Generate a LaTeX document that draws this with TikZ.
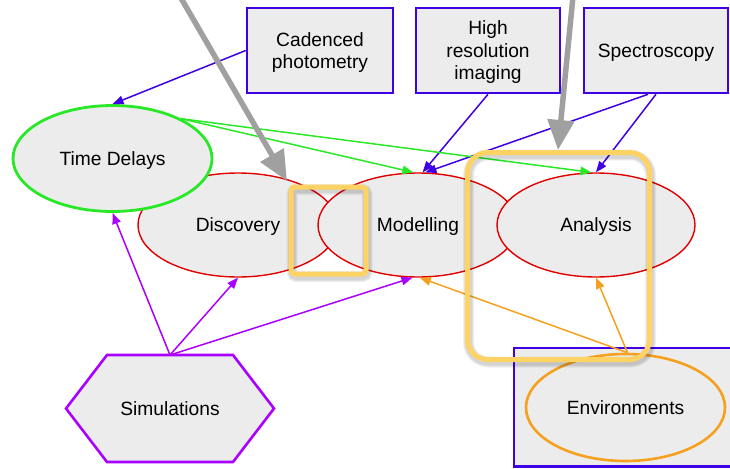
\documentclass[tikz,border=0pt]{standalone}
\usepackage{fontspec}
\setmainfont{Liberation Sans}
\usetikzlibrary{shapes.geometric,arrows.meta,calc}
\definecolor{boxfill}{RGB}{236,236,236}
\definecolor{obsblue}{RGB}{64,0,230}
\definecolor{tdgreen}{RGB}{40,232,40}
\definecolor{simpurple}{RGB}{170,0,255}
\definecolor{envorange}{RGB}{245,160,30}
\definecolor{stagered}{RGB}{225,0,0}
\definecolor{pointgray}{RGB}{160,160,160}
\definecolor{highlight}{RGB}{255,210,100}

\begin{document}
\begin{tikzpicture}[x=1pt,y=-1pt,
  font=\fontsize{19.2}{22.5}\selectfont,
  obsbox/.style={draw=obsblue, line width=2.6pt, fill=boxfill,
    minimum height=85pt, align=center, inner sep=0pt, text depth=0pt},
  stage/.style={ellipse, draw=stagered, line width=1.4pt, fill=boxfill,
    minimum width=200pt, minimum height=104pt, inner sep=0pt, text depth=0pt},
  arr/.style={line width=1.5pt, -{Triangle[length=11pt,width=8.5pt]}},
  obsarrow/.style={arr, draw=obsblue, fill=obsblue},
  tdarrow/.style={arr, draw=tdgreen, fill=tdgreen},
  simarrow/.style={arr, draw=simpurple, fill=simpurple},
  envarrow/.style={arr, draw=envorange, fill=envorange},
  pointer/.style={draw=pointgray, line width=5.5pt,
    -{Triangle[length=30pt,width=26pt]}},
  hlbox/.style={draw=highlight, line width=5pt},
  hlshadow/.style={draw=black, opacity=0.06},
]
\useasboundingbox (0,0) rectangle (730,468);
\clip (0,0) rectangle (730,468);

% environment frame, open towards the right edge, and its ellipse
\node[fill=boxfill, anchor=north west, minimum width=240pt,
  minimum height=118pt, inner sep=0pt] (envbox) at (514,348) {};
\draw[obsblue, line width=2.6pt]
  (envbox.north east) -- (envbox.north west) -- (envbox.south west) -- (envbox.south east);
\node[ellipse, draw=envorange, line width=2.6pt, fill=boxfill,
  minimum width=199pt, minimum height=107pt, inner sep=0pt] (env) at (625.5,407.5) {Environments};

% observation boxes
\node[obsbox, minimum width=146pt] (cad) at (320,50.5) {Cadenced\\photometry};
\node[obsbox, minimum width=144pt] (hri) at (488,50.5) {High\\resolution\\imaging};
\node[obsbox, minimum width=144pt] (spec) at (656,50.5) {Spectroscopy};

% analysis stages
\node[stage] (dis) at (238,225) {Discovery};
\node[stage] (mod) at (418,225) {Modelling};
\node[stage, minimum width=198pt] (ana) at (596,225) {Analysis};

% time delays
\node[ellipse, draw=tdgreen, line width=2.8pt, fill=boxfill, text depth=0pt,
  minimum width=199pt, minimum height=106pt, inner sep=0pt] (td) at (112.5,158.5) {Time Delays};

% simulations hexagon
\coordinate (simc) at (170,408.5);
\draw[draw=simpurple, line width=2.6pt, fill=boxfill]
  ($(simc)+(-104,0)$) -- ($(simc)+(-63,-53.5)$) -- ($(simc)+(63,-53.5)$)
  -- ($(simc)+(104,0)$) -- ($(simc)+(63,53.5)$) -- ($(simc)+(-63,53.5)$) -- cycle;
\node[inner sep=0pt] (sim) at (simc) {Simulations};
\coordinate (simtop) at ($(simc)+(0,-53.5)$);

% connectors
\draw[obsarrow] (cad.west) -- (td.north);
\draw[obsarrow] (hri.south) -- (mod.85);
\draw[obsarrow] ([xshift=-8pt]spec.south) -- (mod.82);
\draw[obsarrow] (spec.south) -- (ana.north);
\draw[tdarrow] (td.30) -- (mod.95);
\draw[tdarrow] (td.30) -- (ana.95);
\draw[simarrow] (simtop) -- (td.south);
\draw[simarrow] (simtop) -- (dis.south);
\draw[simarrow] (simtop) -- (mod.-96);
\draw[envarrow] ([xshift=2pt]env.north) -- (mod.-88);
\draw[envarrow] ([xshift=2pt]env.north) -- (ana.south);

% highlight frames with a soft shadow
\foreach \w in {11,9,7}{
  \draw[hlshadow, line width=\w pt, rounded corners=4pt] (292,189.5) rectangle (367,276.5);
  \draw[hlshadow, line width=\w pt, rounded corners=20pt] (468.5,155) rectangle (650.5,362);
}
\draw[hlbox, rounded corners=4pt] (291,187) rectangle (366,274);
\draw[hlbox, rounded corners=20pt] (467.5,152.5) rectangle (649.5,359.5);

% pointers from above
\coordinate (ptrAs) at (174,-14);
\coordinate (ptrAe) at (287,181);
\draw[pointer] (ptrAs) -- (ptrAe);
\coordinate (ptrBs) at (574,-14);
\coordinate (ptrBe) at (558,150);
\draw[pointer] (ptrBs) -- (ptrBe);
\end{tikzpicture}
\end{document}
